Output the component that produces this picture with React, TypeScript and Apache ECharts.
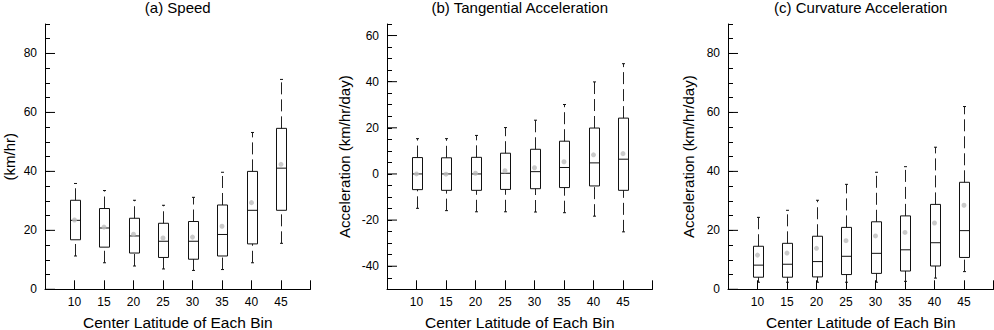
import React, { useEffect, useRef } from "react";
import * as echarts from "echarts";

const latitudes = [10, 15, 20, 25, 30, 35, 40, 45];

// (a) Speed (km/hr)
const speedLow = [11.3, 9.0, 7.9, 6.9, 6.4, 6.7, 9.0, 15.6];
const speedQ1 = [16.8, 14.3, 12.3, 10.8, 10.2, 11.3, 15.4, 26.8];
const speedMedian = [23.4, 20.8, 18.1, 16.3, 16.3, 18.6, 26.8, 41.1];
const speedQ3 = [30.2, 27.4, 24.1, 22.4, 23.0, 28.6, 40.0, 54.6];
const speedHigh = [35.9, 33.5, 30.2, 28.5, 31.2, 39.7, 53.2, 71.2];
const speedMean = [23.5, 21.1, 18.7, 17.4, 17.7, 21.4, 29.4, 42.4];

// (b) Tangential acceleration (km/hr/day)
const tanLow = [-14.9, -15.9, -16.4, -16.4, -16.5, -16.8, -18.3, -25.1];
const tanQ1 = [-6.8, -7.1, -7.1, -6.7, -6.4, -5.9, -5.2, -7.1];
const tanMedian = [0.0, 0.0, 0.0, 0.3, 1.0, 2.8, 4.8, 6.4];
const tanQ3 = [7.1, 7.0, 7.2, 9.0, 10.7, 14.2, 19.9, 24.2];
const tanHigh = [15.3, 15.3, 16.7, 20.1, 23.3, 30.1, 39.9, 47.8];
const tanMean = [0.0, -0.1, 0.3, 1.4, 2.7, 5.3, 8.3, 8.8];

// (c) Curvature acceleration (km/hr/day)
const curLow = [2.4, 2.4, 2.4, 2.4, 2.4, 2.7, 3.8, 6.0];
const curQ1 = [4.1, 4.1, 4.2, 5.0, 5.4, 6.2, 7.9, 10.8];
const curMedian = [8.2, 8.5, 9.4, 11.2, 12.2, 13.4, 15.8, 19.9];
const curQ3 = [14.6, 15.6, 18.0, 21.0, 22.9, 24.9, 28.8, 36.3];
const curHigh = [24.4, 26.8, 30.2, 35.6, 39.7, 41.6, 48.2, 62.0];
const curMean = [11.6, 12.3, 13.9, 16.5, 18.1, 19.3, 22.5, 28.5];

const majorTicksSpeed = [0, 20, 40, 60, 80];
const majorTicksTan = [-40, -20, 0, 20, 40, 60];
const majorTicksCur = [0, 20, 40, 60, 80];

const titles = ["(a) Speed", "(b) Tangential Acceleration", "(c) Curvature Acceleration"];
const yNames = ["(km/hr)", "Acceleration (km/hr/day)", "Acceleration (km/hr/day)"];
const xName = "Center Latitude of Each Bin";

const FONT = "'Liberation Sans', Arial, Helvetica, sans-serif";

const panels = [
  { low: speedLow, q1: speedQ1, med: speedMedian, q3: speedQ3, high: speedHigh, mean: speedMean, major: majorTicksSpeed, yMin: 0, yMax: 90, left: 45, nameGap: 28 },
  { low: tanLow, q1: tanQ1, med: tanMedian, q3: tanQ3, high: tanHigh, mean: tanMean, major: majorTicksTan, yMin: -50, yMax: 65, left: 387, nameGap: 35 },
  { low: curLow, q1: curQ1, med: curMedian, q3: curQ3, high: curHigh, mean: curMean, major: majorTicksCur, yMin: 0, yMax: 90, left: 728, nameGap: 32 },
];

const GRID_TOP = 24;
const GRID_W = 265.5;
const GRID_H = 265.3;

function renderBox(params: any, api: any) {
  const x = api.value(0);
  const lo = api.coord([x, api.value(1)]);
  const q1 = api.coord([x, api.value(2)]);
  const md = api.coord([x, api.value(3)]);
  const q3 = api.coord([x, api.value(4)]);
  const hi = api.coord([x, api.value(5)]);
  const cx = Math.round(lo[0]) + 0.5;
  const hw = 5;
  const cap = 1.5;
  const whisker = { stroke: "#222", lineWidth: 1, lineDash: [12, 5], fill: null };
  const solid = { stroke: "#111", lineWidth: 1, fill: null };
  return {
    type: "group",
    children: [
      { type: "line", shape: { x1: cx, y1: q3[1], x2: cx, y2: hi[1] }, style: whisker },
      { type: "line", shape: { x1: cx, y1: lo[1], x2: cx, y2: q1[1] }, style: whisker },
      { type: "line", shape: { x1: cx - cap, y1: hi[1], x2: cx + cap, y2: hi[1] }, style: solid },
      { type: "line", shape: { x1: cx - cap, y1: lo[1], x2: cx + cap, y2: lo[1] }, style: solid },
      { type: "rect", shape: { x: cx - hw, y: q3[1], width: hw * 2, height: q1[1] - q3[1] }, style: { stroke: "#111", lineWidth: 1, fill: "rgba(0,0,0,0)" } },
      { type: "line", shape: { x1: cx - hw, y1: md[1], x2: cx + hw, y2: md[1] }, style: solid },
    ],
  };
}

function renderMajorTick(params: any, api: any) {
  const v = api.value(1);
  const p = api.coord([api.value(0), v]);
  const x0 = params.coordSys.x;
  return {
    type: "line",
    shape: { x1: x0, y1: p[1], x2: x0 + 10, y2: p[1] },
    style: { stroke: "#000", lineWidth: 1 },
  };
}

export default function App() {
  const ref = useRef<HTMLDivElement>(null);

  useEffect(() => {
    if (!ref.current) return;
    const chart = echarts.init(ref.current, undefined, { renderer: "svg" });

    const grid: any[] = [];
    const xAxis: any[] = [];
    const yAxis: any[] = [];
    const series: any[] = [];
    const graphic: any[] = [];

    panels.forEach((p, i) => {
      grid.push({ left: p.left, top: GRID_TOP, width: GRID_W, height: GRID_H, containLabel: false, outerBoundsMode: "none" });
      xAxis.push({
        gridIndex: i,
        type: "value",
        min: 5,
        max: 50,
        interval: 5,
        axisLine: { show: true, onZero: false, lineStyle: { color: "#000", width: 1 } },
        axisTick: { show: true, inside: true, length: 9, lineStyle: { color: "#000", width: 1 } },
        axisLabel: {
          margin: 7,
          fontSize: 12,
          color: "#000",
          fontFamily: FONT,
          formatter: (v: number) => (latitudes.includes(v) ? String(v) : ""),
        },
        splitLine: { show: false },
        name: xName,
        nameLocation: "middle",
        nameGap: 26,
        nameTextStyle: { fontSize: 15.5, lineHeight: 14, color: "#000", fontFamily: FONT },
      });
      yAxis.push({
        gridIndex: i,
        type: "value",
        min: p.yMin,
        max: p.yMax,
        interval: 5,
        axisLine: { show: true, onZero: false, lineStyle: { color: "#000", width: 1 } },
        axisTick: { show: true, inside: true, length: 5, lineStyle: { color: "#000", width: 1 } },
        axisLabel: {
          margin: 8,
          fontSize: 12,
          color: "#000",
          fontFamily: FONT,
          formatter: (v: number) => (p.major.includes(v) ? String(v) : ""),
        },
        splitLine: { show: false },
        name: yNames[i],
        nameLocation: "middle",
        nameGap: p.nameGap,
        nameTextStyle: { fontSize: 15, color: "#000", fontFamily: FONT },
      });

      series.push({
        type: "custom",
        xAxisIndex: i,
        yAxisIndex: i,
        renderItem: renderMajorTick,
        data: p.major.map((v) => [5, v]),
        silent: true,
        z: 3,
      });
      series.push({
        type: "custom",
        xAxisIndex: i,
        yAxisIndex: i,
        renderItem: renderBox,
        data: latitudes.map((lat, k) => [lat, p.low[k], p.q1[k], p.med[k], p.q3[k], p.high[k]]),
        encode: { x: 0, y: [1, 2, 3, 4, 5] },
        z: 2,
      });
      series.push({
        type: "scatter",
        xAxisIndex: i,
        yAxisIndex: i,
        data: latitudes.map((lat, k) => [lat, p.mean[k]]),
        symbol: "circle",
        symbolSize: 5,
        itemStyle: { color: "#bdbdbd" },
        z: 4,
      });

      graphic.push({
        type: "text",
        x: p.left + GRID_W / 2,
        y: 0,
        style: {
          text: titles[i],
          align: "center",
          verticalAlign: "top",
          fontSize: 15,
          fontFamily: FONT,
          fill: "#000",
        },
      });
    });

    chart.setOption({
      animation: false,
      backgroundColor: "#fff",
      grid,
      xAxis,
      yAxis,
      series,
      graphic,
    });

    return () => chart.dispose();
  }, []);

  return (
    <div
      ref={ref}
      style={{ position: "fixed", left: 0, top: 0, width: 994, height: 330, background: "#fff" }}
    />
  );
}
